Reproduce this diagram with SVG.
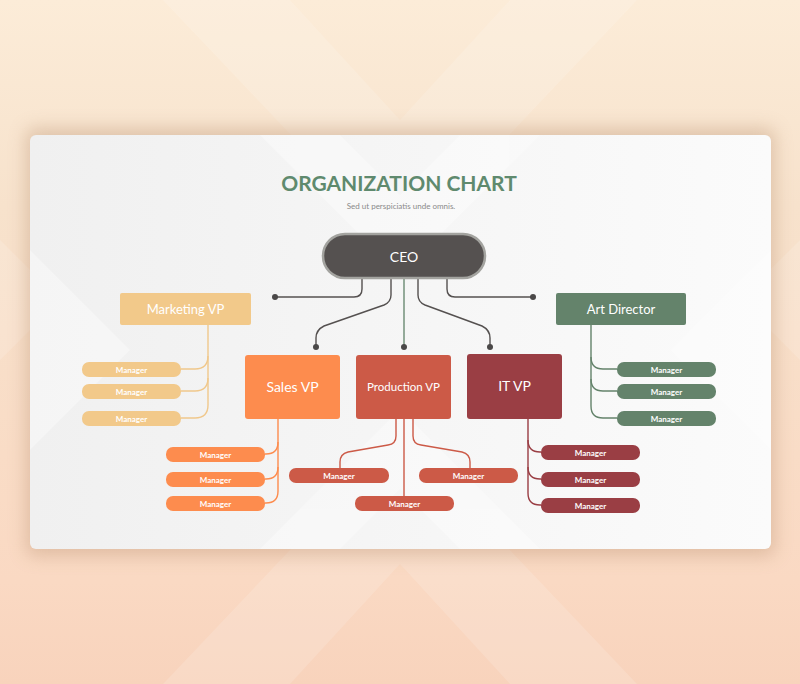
<svg xmlns="http://www.w3.org/2000/svg" width="800" height="684" viewBox="0 0 800 684">
<defs>
<linearGradient id="bg" x1="0" y1="0" x2="0" y2="1">
<stop offset="0" stop-color="#fcecd8"/>
<stop offset="0.3" stop-color="#f7e2cc"/>
<stop offset="0.85" stop-color="#fad9c3"/>
<stop offset="1" stop-color="#f8d3bc"/>
</linearGradient>
<linearGradient id="card" x1="0" y1="0" x2="1" y2="0">
<stop offset="0" stop-color="#f0f0f0"/>
<stop offset="1" stop-color="#fbfbfb"/>
</linearGradient>
<filter id="sh" x="-10%" y="-20%" width="120%" height="140%">
<feGaussianBlur stdDeviation="9"/>
</filter>
<style>
.t{font-family:Lato,"Open Sans","Liberation Sans",sans-serif;fill:#fff;text-anchor:middle;dominant-baseline:central}
.vp{font-size:14px}
.mg{font-size:8px;font-weight:bold}
.ln{fill:none;stroke-width:1.4}
.ceo{stroke:#555150}
.dot{fill:#4a4848}
</style>
</defs>
<rect width="800" height="684" fill="url(#bg)"/>
<g fill="#ffffff" opacity="0.14">
<polygon points="163,0 290,0 400,120 510,0 637,0 400,250"/>
<polygon points="163,684 290,684 400,564 510,684 637,684 400,434"/>
<polygon points="0,240 0,360 60,300"/>
<polygon points="800,240 800,360 740,300"/>
</g>
<rect x="26" y="128" width="749" height="428" rx="8" fill="#b8906f" opacity="0.4" filter="url(#sh)"/>
<rect x="30" y="135" width="741" height="414" rx="6" fill="url(#card)"/>
<g fill="#ffffff" opacity="0.35">
<polygon points="260,135 340,135 400,195 460,135 540,135 400,275"/>
<polygon points="30,250 130,350 30,450"/>
<polygon points="771,250 671,350 771,450"/>
<polygon points="260,549 340,549 400,489 460,549 540,549 400,409"/>
</g>
<text x="399" y="182" font-family="Lato,'Open Sans','Liberation Sans',sans-serif" font-size="21" font-weight="bold" fill="#5f8a6e" text-anchor="middle" dominant-baseline="central">ORGANIZATION CHART</text>
<text x="401" y="206" font-family="Lato,'Open Sans','Liberation Sans',sans-serif" font-size="8" fill="#8a8a8a" text-anchor="middle" dominant-baseline="central">Sed ut perspiciatis unde omnis.</text>
<g id="connectors">
<path class="ln ceo" d="M362 278 V289 Q362 297 354 297 H275"/>
<path class="ln ceo" d="M391 278 V295 Q391 302 384 305 L324 326 Q316 330 316 338 V347"/>
<path class="ln" stroke="#6b8a72" d="M404 278 V347"/>
<path class="ln ceo" d="M418 278 V295 Q418 302 425 305 L482 326 Q490 330 490 338 V347"/>
<path class="ln ceo" d="M447 278 V289 Q447 297 455 297 H533"/>
<circle class="dot" cx="275" cy="297" r="3"/>
<circle class="dot" cx="316" cy="347" r="3"/>
<circle class="dot" cx="404" cy="347" r="3"/>
<circle class="dot" cx="490" cy="347" r="3"/>
<circle class="dot" cx="533" cy="297" r="3"/>
<g class="ln" stroke="#f0c88c">
<path d="M208 325 V356 Q208 369 195 369 H181"/>
<path d="M208 356 V378 Q208 391 195 391 H181"/>
<path d="M208 378 V405 Q208 418 195 418 H181"/>
</g>
<g class="ln" stroke="#fd8c4e">
<path d="M278 419 V442 Q278 454 266 454 H265"/>
<path d="M278 442 V467 Q278 479 266 479 H265"/>
<path d="M278 467 V491 Q278 503 266 503 H265"/>
</g>
<g class="ln" stroke="#cc5a47">
<path d="M396 419 V436 Q396 444 388 445 L348 452 Q340 454 340 462 V468"/>
<path d="M413 419 V436 Q413 444 421 445 L462 452 Q470 454 470 462 V468"/>
<path d="M404 419 V496"/>
</g>
<g class="ln" stroke="#9a3e44">
<path d="M528 419 V440 Q528 452 540 452 H541"/>
<path d="M528 440 V467 Q528 479 540 479 H541"/>
<path d="M528 467 V493 Q528 505 540 505 H541"/>
</g>
<g class="ln" stroke="#64836b">
<path d="M591 325 V357 Q591 369 603 369 H617"/>
<path d="M591 357 V379 Q591 391 603 391 H617"/>
<path d="M591 379 V406 Q591 418 603 418 H617"/>
</g>
</g>
<g id="ceo">
<rect x="323" y="234" width="162" height="44" rx="22" fill="#555150" stroke="#a3a39f" stroke-width="2.5"/>
<text class="t" x="404" y="256" font-size="14">CEO</text>
</g>
<g id="marketing-vp">
<rect x="120" y="293" width="131" height="32" rx="2" fill="#f2c98a"/>
<text class="t" x="185.5" y="309" font-size="13">Marketing VP</text>
</g>
<g id="marketing-managers" fill="#f2c98a">
<rect x="82" y="362" width="99" height="15" rx="7"/>
<rect x="82" y="384" width="99" height="15" rx="7"/>
<rect x="82" y="411" width="99" height="15" rx="7"/>
<text class="t mg" x="131.5" y="369.5">Manager</text>
<text class="t mg" x="131.5" y="391.5">Manager</text>
<text class="t mg" x="131.5" y="418.5">Manager</text>
</g>
<g id="sales-vp">
<rect x="245" y="355" width="95" height="64" rx="3" fill="#fd8c4e"/>
<text class="t vp" x="292.5" y="386">Sales VP</text>
</g>
<g id="sales-managers" fill="#fd8c4e">
<rect x="166" y="447" width="99" height="15" rx="7"/>
<rect x="166" y="472" width="99" height="15" rx="7"/>
<rect x="166" y="496" width="99" height="15" rx="7"/>
<text class="t mg" x="215.5" y="454.5">Manager</text>
<text class="t mg" x="215.5" y="479.5">Manager</text>
<text class="t mg" x="215.5" y="503.5">Manager</text>
</g>
<g id="production-vp">
<rect x="356" y="355" width="95" height="64" rx="3" fill="#cc5a47"/>
<text class="t" x="403.5" y="386" font-size="11.5">Production VP</text>
</g>
<g id="production-managers" fill="#cc5a47">
<rect x="289" y="468" width="100" height="15" rx="7"/>
<rect x="419" y="468" width="99" height="15" rx="7"/>
<rect x="355" y="496" width="99" height="15" rx="7"/>
<text class="t mg" x="339" y="475.5">Manager</text>
<text class="t mg" x="468.5" y="475.5">Manager</text>
<text class="t mg" x="404.5" y="503.5">Manager</text>
</g>
<g id="it-vp">
<rect x="467" y="354" width="95" height="65" rx="3" fill="#9a3e44"/>
<text class="t vp" x="514.5" y="385">IT VP</text>
</g>
<g id="it-managers" fill="#9a3e44">
<rect x="541" y="445" width="99" height="15" rx="7"/>
<rect x="541" y="472" width="99" height="15" rx="7"/>
<rect x="541" y="498" width="99" height="15" rx="7"/>
<text class="t mg" x="590.5" y="452.5">Manager</text>
<text class="t mg" x="590.5" y="479.5">Manager</text>
<text class="t mg" x="590.5" y="505.5">Manager</text>
</g>
<g id="art-director">
<rect x="556" y="293" width="130" height="32" rx="2" fill="#64836b"/>
<text class="t" x="621" y="309" font-size="13">Art Director</text>
</g>
<g id="art-managers" fill="#64836b">
<rect x="617" y="362" width="99" height="15" rx="7"/>
<rect x="617" y="384" width="99" height="15" rx="7"/>
<rect x="617" y="411" width="99" height="15" rx="7"/>
<text class="t mg" x="666.5" y="369.5">Manager</text>
<text class="t mg" x="666.5" y="391.5">Manager</text>
<text class="t mg" x="666.5" y="418.5">Manager</text>
</g>
</svg>
